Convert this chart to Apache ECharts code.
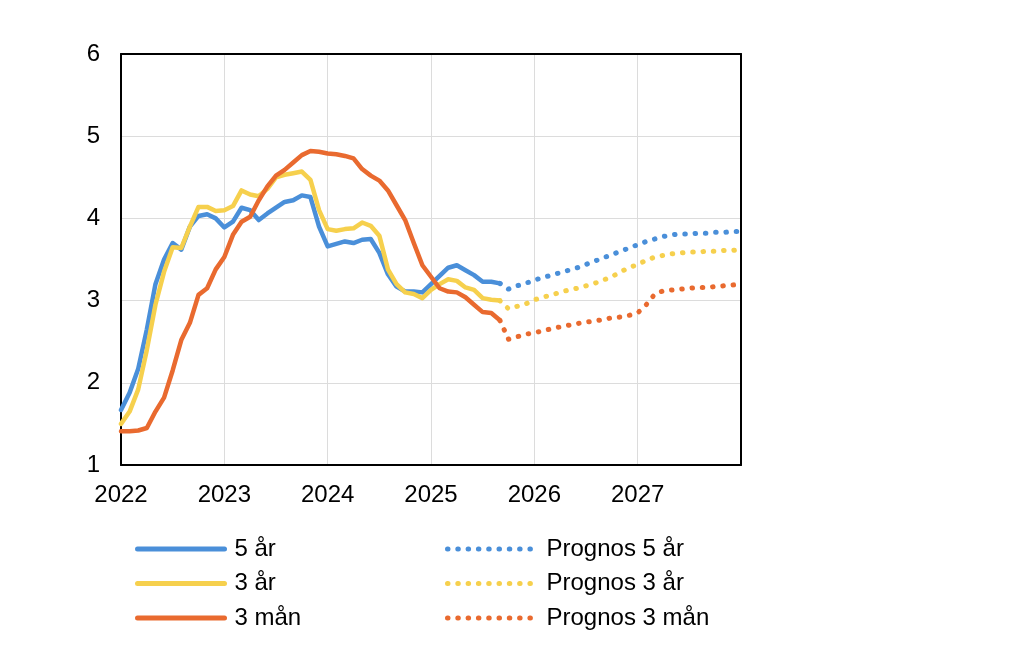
<!DOCTYPE html>
<html>
<head>
<meta charset="utf-8">
<script src="https://cdn.jsdelivr.net/npm/echarts@6/dist/echarts.min.js"></script>
<style>
html,body{margin:0;padding:0;background:#fff;}
#chart{width:1034px;height:668px;}
</style>
</head>
<body>
<div id="chart"></div>
<script>
// Monthly categories, Jan 2022 .. Jan 2028
const categories = [
 '2022-01','2022-02','2022-03','2022-04','2022-05','2022-06','2022-07','2022-08','2022-09','2022-10','2022-11','2022-12',
 '2023-01','2023-02','2023-03','2023-04','2023-05','2023-06','2023-07','2023-08','2023-09','2023-10','2023-11','2023-12',
 '2024-01','2024-02','2024-03','2024-04','2024-05','2024-06','2024-07','2024-08','2024-09','2024-10','2024-11','2024-12',
 '2025-01','2025-02','2025-03','2025-04','2025-05','2025-06','2025-07','2025-08','2025-09','2025-10','2025-11','2025-12',
 '2026-01','2026-02','2026-03','2026-04','2026-05','2026-06','2026-07','2026-08','2026-09','2026-10','2026-11','2026-12',
 '2027-01','2027-02','2027-03','2027-04','2027-05','2027-06','2027-07','2027-08','2027-09','2027-10','2027-11','2027-12',
 '2028-01'
];
const forecastStart = '2025-09';

// Historical (Jan 2022 .. Sep 2025)
const y5 = [1.67,1.88,2.17,2.65,3.20,3.50,3.70,3.62,3.90,4.03,4.05,4.00,
            3.89,3.96,4.13,4.10,3.98,4.06,4.13,4.20,4.22,4.28,4.26,3.90,
            3.66,3.69,3.72,3.70,3.74,3.75,3.58,3.32,3.17,3.11,3.11,3.10,
            3.20,3.30,3.40,3.43,3.37,3.31,3.23,3.23,3.21];
const y3 = [1.50,1.65,1.92,2.40,2.95,3.35,3.65,3.64,3.90,4.14,4.14,4.09,
            4.10,4.15,4.34,4.29,4.27,4.36,4.50,4.53,4.55,4.57,4.47,4.10,
            3.87,3.85,3.87,3.88,3.95,3.91,3.79,3.38,3.20,3.10,3.08,3.03,
            3.13,3.20,3.26,3.24,3.16,3.13,3.03,3.01,3.00];
const m3 = [1.41,1.41,1.42,1.45,1.65,1.82,2.15,2.52,2.73,3.07,3.15,3.38,
            3.53,3.80,3.96,4.02,4.22,4.39,4.52,4.59,4.68,4.77,4.82,4.81,
            4.79,4.78,4.76,4.73,4.60,4.52,4.46,4.34,4.16,3.98,3.70,3.43,
            3.29,3.15,3.11,3.10,3.04,2.95,2.86,2.85,2.76];

// Forecast (Sep 2025 .. Jan 2028)
const f5 = [3.21,3.14,3.18,3.21,3.25,3.28,3.31,3.34,3.37,3.40,3.44,3.48,3.52,3.56,
            3.60,3.64,3.68,3.72,3.75,3.78,3.80,3.81,3.81,3.82,3.82,3.83,3.83,3.84,3.84];
const f3 = [3.00,2.90,2.93,2.96,3.01,3.04,3.07,3.10,3.13,3.15,3.18,3.21,3.25,3.29,
            3.35,3.40,3.44,3.49,3.53,3.55,3.57,3.58,3.59,3.59,3.60,3.60,3.61,3.61,3.62];
const fm3 = [2.76,2.53,2.56,2.59,2.61,2.63,2.66,2.68,2.70,2.72,2.74,2.75,2.77,2.79,
             2.80,2.82,2.85,2.95,3.08,3.12,3.13,3.14,3.15,3.16,3.16,3.17,3.18,3.19,3.20];

const names = ['5 år','3 år','3 mån'];
const fcNames = ['Prognos 5 år','Prognos 3 år','Prognos 3 mån'];
const colors = ['#4A8FD9','#F6D04D','#E96A2F'];

const fcIdx = categories.indexOf(forecastStart);
const fcCats = categories.slice(fcIdx);
const toPairs = arr => arr.map((v,i)=>[fcCats[i], v]);

const FONT = 'Liberation Sans';
const FS = 24;
const chart = echarts.init(document.getElementById('chart'));

function hist(name, data, color){
  return {name, type:'line', data, symbol:'none', smooth:false,
    lineStyle:{color, width:4.5, join:'round', cap:'round'},
    itemStyle:{color}, z:3};
}
function fc(name, data, color){
  return {name, type:'line', data: toPairs(data), symbol:'none', smooth:false,
    lineStyle:{color, width:5, type:[0.5,9.8], cap:'round', join:'round'},
    itemStyle:{color}, z:3};
}
const yearTick = (idx) => idx % 12 === 0;
const border = {show:true, lineStyle:{color:'#000', width:2}};

chart.setOption({
  animation:false,
  grid:{left:121, right:293, top:54, bottom:203},
  xAxis:[{
    type:'category', data:categories, boundaryGap:false,
    axisLine:border,
    axisTick:{show:false},
    axisLabel:{interval:yearTick, margin:18, color:'#000', fontSize:FS, fontFamily:FONT,
      formatter: v => v === '2028-01' ? '' : v.slice(0,4)},
    splitLine:{show:true, interval:yearTick, lineStyle:{color:'#dcdcdc', width:1}}
  },{
    type:'category', data:categories, boundaryGap:false, position:'top',
    axisLine:border, axisTick:{show:false}, axisLabel:{show:false}, splitLine:{show:false}
  }],
  yAxis:[{
    type:'value', min:1, max:6, interval:1,
    axisLine:border,
    axisTick:{show:false},
    axisLabel:{margin:21, color:'#000', fontSize:FS, fontFamily:FONT},
    splitLine:{show:true, lineStyle:{color:'#dcdcdc', width:1}}
  },{
    type:'value', min:1, max:6, interval:1, position:'right',
    axisLine:border, axisTick:{show:false}, axisLabel:{show:false}, splitLine:{show:false}
  }],
  legend:[
    {data:names, orient:'vertical', left:130, top:532, itemWidth:87, itemHeight:24, itemGap:10.5,
     itemStyle:{opacity:0}, lineStyle:{width:5},
     textStyle:{color:'#000', fontSize:FS, fontFamily:FONT, lineHeight:24, padding:[0,0,0,5]}, selectedMode:false},
    {data:fcNames, orient:'vertical', left:440, top:532, itemWidth:90, itemHeight:24, itemGap:10.5,
     itemStyle:{opacity:0}, lineStyle:{width:5},
     textStyle:{color:'#000', fontSize:FS, fontFamily:FONT, lineHeight:24, padding:[0,0,0,4]}, selectedMode:false}
  ],
  series:[
    hist(names[0], y5, colors[0]),
    hist(names[1], y3, colors[1]),
    hist(names[2], m3, colors[2]),
    fc(fcNames[0], f5, colors[0]),
    fc(fcNames[1], f3, colors[1]),
    fc(fcNames[2], fm3, colors[2])
  ]
});
</script>
</body>
</html>
